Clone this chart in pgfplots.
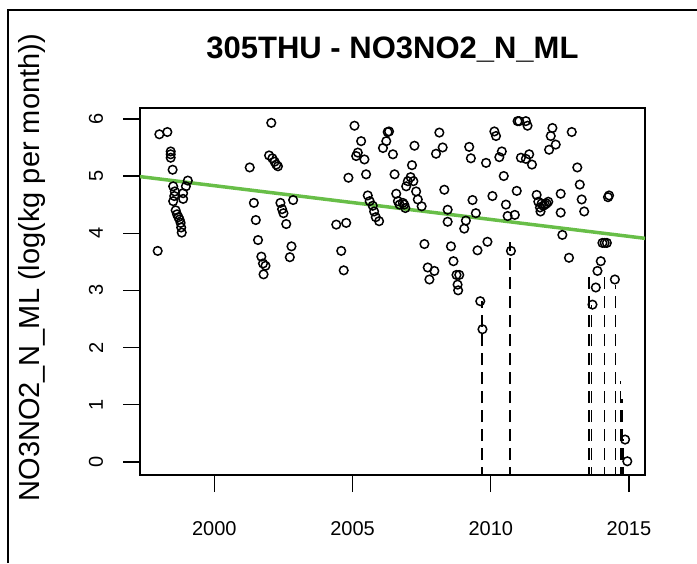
\documentclass[border=0pt]{standalone}
\usepackage{fontspec}
\setmainfont{Liberation Sans}
\usepackage{pgfplots}
\pgfplotsset{compat=1.18}
\definecolor{trendgreen}{RGB}{104,190,72}
\begin{document}
\begin{tikzpicture}[x=1pt,y=1pt]
\useasboundingbox (0,0) rectangle (697,563);
\draw[line width=2pt] (8,0) -- (8,553) -- (697,553);
\node[anchor=base,font=\bfseries\fontsize{31}{36}\selectfont] at (392.5,504) {305THU - NO3NO2\_N\_ML};
\node[rotate=90,anchor=base west,font=\fontsize{29}{34}\selectfont] at (39,58) {NO3NO2\_N\_ML (log(kg per month))};
\begin{axis}[at={(140pt,88pt)}, anchor=south west, scale only axis,
  width=505pt, height=367pt,
  xmin=1997.31, xmax=2015.58, ymin=-0.23, ymax=6.19,
  xtick={2000,2005,2010,2015}, xticklabels={2000,2005,2010,2015},
  ytick={0,1,2,3,4,5,6},
  tick align=outside, major tick length=17pt, tick pos=left,
  axis line style={line width=1.3pt},
  every tick/.style={black, line width=1.3pt},
  /pgf/number format/assume math mode=true,
  xticklabel style={font=\fontsize{20}{24}\selectfont, anchor=center, yshift=-37pt},
  yticklabel style={font=\fontsize{20}{24}\selectfont, rotate=90, anchor=center, yshift=27pt},
  clip=true]
% censored (dashed) values
\addplot[black, line width=1.5pt, dash pattern=on 12pt off 7pt] coordinates {(2009.68,-0.3) (2009.68,2.81)};
\addplot[black, line width=1.5pt, dash pattern=on 12pt off 7pt] coordinates {(2010.69,-0.3) (2010.69,3.85)};
\addplot[black, line width=1.5pt, dash pattern=on 12pt off 7pt] coordinates {(2013.56,-0.3) (2013.56,3.34)};
\addplot[black, line width=1.5pt, dash pattern=on 12pt off 7pt] coordinates {(2013.64,-0.3) (2013.64,2.75)};
\addplot[black, line width=1.5pt, dash pattern=on 12pt off 7pt] coordinates {(2014.12,-0.3) (2014.12,3.35)};
\addplot[black, line width=1.5pt, dash pattern=on 12pt off 7pt] coordinates {(2014.52,-0.3) (2014.52,3.10)};
\addplot[black, line width=1.5pt, dash pattern=on 12pt off 7pt] coordinates {(2014.70,-0.3) (2014.70,1.42)};
\addplot[black, line width=1.5pt, dash pattern=on 12pt off 7pt] coordinates {(2014.74,-0.3) (2014.74,1.10)};
\addplot[black, line width=1.5pt, dash pattern=on 12pt off 7pt] coordinates {(2014.78,-0.3) (2014.78,0.40)};
% observations
\addplot[only marks, mark=o, mark size=4.3pt, mark options={line width=1.5pt, black}] table {
x y
1997.95 3.69
1998.01 5.73
1998.30 5.77
1998.42 5.43
1998.42 5.38
1998.42 5.32
1998.49 5.11
1999.04 4.92
1998.97 4.82
1998.57 4.73
1998.87 4.70
1998.51 4.82
1998.51 4.56
1998.55 4.65
1998.87 4.60
1998.60 4.40
1998.65 4.33
1998.70 4.28
1998.74 4.24
1998.78 4.18
1998.80 4.10
1998.82 4.01
2001.28 5.15
2002.06 5.93
2001.98 5.36
2002.10 5.31
2002.18 5.25
2002.24 5.20
2002.30 5.17
2001.43 4.53
2001.50 4.23
2001.58 3.88
2001.70 3.59
2001.76 3.47
2001.85 3.43
2001.78 3.28
2002.39 4.53
2002.45 4.42
2002.50 4.35
2002.60 4.16
2002.85 4.58
2002.79 3.77
2002.73 3.58
2004.85 4.97
2005.07 5.88
2005.31 5.61
2005.19 5.41
2005.13 5.35
2005.43 5.29
2005.49 5.03
2004.41 4.15
2004.77 4.18
2004.59 3.69
2004.68 3.35
2005.55 4.66
2005.62 4.56
2005.73 4.48
2005.78 4.38
2005.84 4.28
2005.96 4.21
2006.27 5.77
2006.32 5.78
2006.22 5.61
2006.10 5.49
2006.46 5.38
2006.52 5.03
2006.58 4.69
2006.64 4.56
2006.70 4.50
2006.82 4.53
2006.91 4.44
2006.87 4.50
2006.94 4.82
2007.00 4.91
2007.10 4.98
2007.20 4.91
2007.30 4.73
2007.36 4.59
2007.50 4.47
2007.15 5.19
2007.24 5.53
2007.60 3.81
2007.72 3.40
2007.96 3.34
2007.78 3.19
2008.14 5.76
2008.02 5.39
2008.26 5.50
2008.32 4.76
2008.44 4.41
2008.44 4.20
2008.56 3.77
2008.65 3.51
2008.76 3.27
2008.86 3.27
2008.80 3.10
2008.82 3.00
2009.22 5.51
2009.28 5.31
2009.83 5.23
2009.34 4.58
2009.46 4.35
2009.10 4.22
2009.04 4.08
2009.52 3.70
2009.88 3.85
2009.62 2.81
2009.70 2.32
2010.13 5.78
2010.19 5.70
2010.40 5.43
2010.31 5.33
2010.47 5.00
2010.06 4.65
2010.55 4.50
2010.61 4.30
2010.87 4.32
2010.94 4.74
2010.73 3.69
2010.97 5.96
2011.03 5.96
2011.27 5.96
2011.33 5.88
2011.09 5.32
2011.27 5.30
2011.39 5.38
2011.49 5.20
2011.66 4.67
2011.72 4.55
2011.78 4.45
2011.84 4.52
2011.90 4.48
2011.96 4.50
2012.02 4.52
2012.08 4.55
2011.80 4.38
2012.23 5.84
2012.17 5.70
2012.35 5.55
2012.11 5.46
2012.93 5.77
2012.53 4.69
2012.53 4.36
2012.59 3.97
2012.83 3.57
2013.13 5.15
2013.22 4.85
2013.29 4.59
2013.38 4.38
2013.98 3.51
2013.86 3.34
2013.80 3.05
2013.68 2.75
2014.24 4.63
2014.28 4.66
2014.04 3.83
2014.12 3.83
2014.20 3.83
2014.49 3.19
2014.86 0.39
2014.94 0.01
};
% trend line
\addplot[trendgreen, line width=3.5pt] coordinates {(1997.31,4.99) (2015.58,3.91)};
\end{axis}
\end{tikzpicture}
\end{document}
